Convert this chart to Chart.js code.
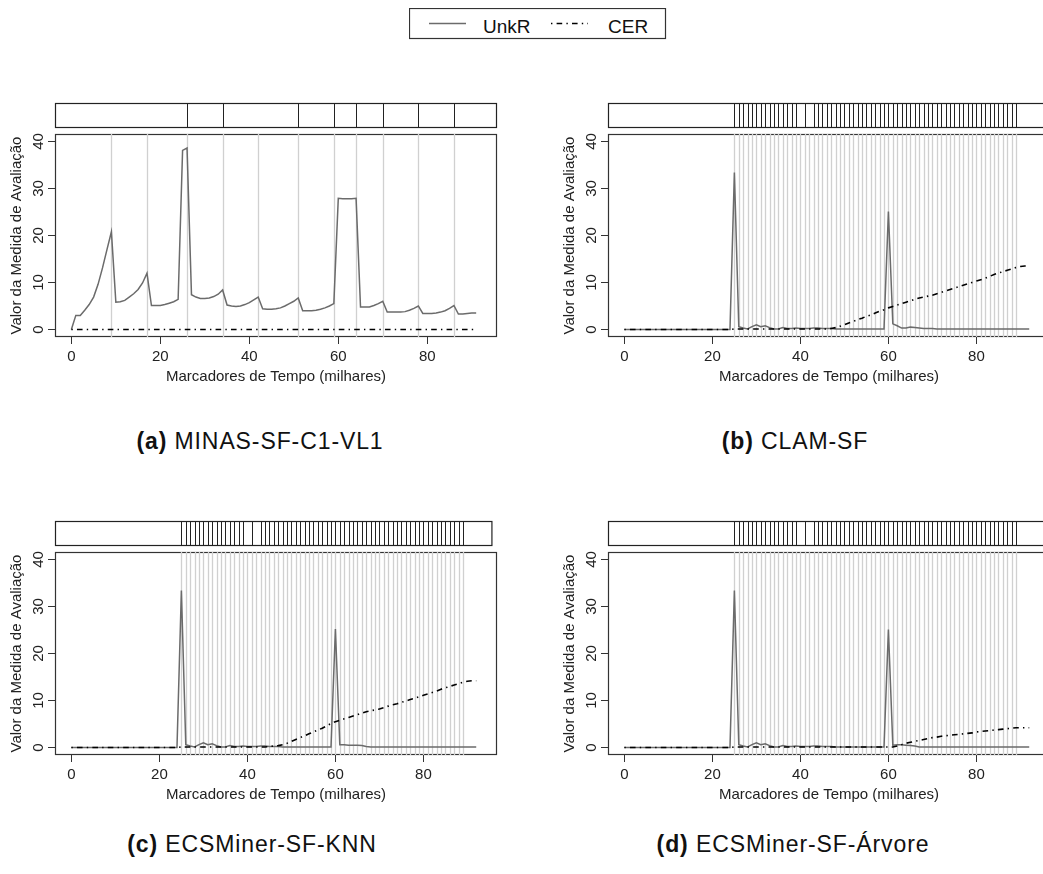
<!DOCTYPE html>
<html>
<head>
<meta charset="utf-8">
<script src="https://cdn.jsdelivr.net/npm/chart.js@4.4.0/dist/chart.umd.min.js"></script>
<style>
  html, body { margin: 0; padding: 0; background: #fff; overflow: hidden; }
  body { width: 1043px; height: 874px; position: relative; font-family: 'Liberation Sans', Arial, Helvetica, sans-serif; }
  canvas { position: absolute; }
  .cap { position: absolute; width: 520px; text-align: center; font-size: 23px; letter-spacing: 0.9px; line-height: 1; color: #111; white-space: nowrap; }
  #legend { position: absolute; left: 409px; top: 8px; }
</style>
</head>
<body>
<svg id="legend" width="258" height="32">
  <rect x="0.5" y="0.5" width="256" height="30" fill="#fff" stroke="#333" stroke-width="1.2"/>
  <line x1="20" y1="15.5" x2="57" y2="15.5" stroke="#6b6b6b" stroke-width="1.5"/>
  <text x="74" y="25" font-size="19" fill="#111" font-family="Liberation Sans, Arial, sans-serif">UnkR</text>
  <line x1="142" y1="15.5" x2="179" y2="15.5" stroke="#000" stroke-width="1.6" stroke-dasharray="1.4 4.2 5.6 4.2"/>
  <text x="199" y="25" font-size="19" fill="#111" font-family="Liberation Sans, Arial, sans-serif">CER</text>
</svg>

<canvas id="panelA" width="520" height="310" style="left:0;top:90px"></canvas>
<canvas id="panelB" width="520" height="310" style="left:553px;top:90px"></canvas>
<canvas id="panelC" width="520" height="310" style="left:0;top:508px"></canvas>
<canvas id="panelD" width="520" height="310" style="left:553px;top:508px"></canvas>

<div class="cap" style="left:0;top:430px"><b>(a)</b> MINAS-SF-C1-VL1</div>
<div class="cap" style="left:535px;top:430px"><b>(b)</b> CLAM-SF</div>
<div class="cap" style="left:-8px;top:833px"><b>(c)</b> ECSMiner-SF-KNN</div>
<div class="cap" style="left:533px;top:833px"><b>(d)</b> ECSMiner-SF-Árvore</div>

<script>
// time markers (thousands)
const timeK = [0,1,2,3,4,5,6,7,8,9,10,11,12,13,14,15,16,17,18,19,20,21,22,23,24,25,26,27,28,29,30,31,32,33,34,35,36,37,38,39,40,41,42,43,44,45,46,47,48,49,50,51,52,53,54,55,56,57,58,59,60,61,62,63,64,65,66,67,68,69,70,71,72,73,74,75,76,77,78,79,80,81,82,83,84,85,86,87,88,89,90,91,92];
const xTickValues = [0, 20, 40, 60, 80];
const yTickValues = [0, 10, 20, 30, 40];

// (a) MINAS-SF-C1-VL1
const unkrA = [0,3.0,3.0,4.1,5.3,6.9,9.6,13.1,17.0,20.8,
  5.8,5.9,6.2,6.9,7.6,8.5,9.9,12.0,5.1,5.1,
  5.1,5.3,5.6,5.9,6.4,38.1,38.6,7.4,6.9,6.6,
  6.6,6.7,7.0,7.5,8.4,5.2,5.0,4.9,5.0,5.3,
  5.7,6.3,6.9,4.4,4.3,4.3,4.4,4.6,5.0,5.5,
  6.0,6.7,4.0,4.0,4.0,4.1,4.3,4.6,5.0,5.5,
  27.9,27.8,27.8,27.8,27.9,4.8,4.8,4.8,5.1,5.5,
  6.0,3.7,3.7,3.7,3.7,3.8,4.1,4.5,5.0,3.4,
  3.4,3.4,3.5,3.7,4.0,4.5,5.1,3.3,3.3,3.4,
  3.5,3.5];
const cerA = [0,0,0,0,0,0,0,0,0,0,0,0,0,0,0,0,0,0,0,0,0,0,0,0,0,0,0,0,0,0,
  0,0,0,0,0,0,0,0,0,0,0,0,0,0,0,0,0,0,0,0,0,0,0,0,0,0,0,0,0,0,
  0,0,0,0,0,0,0,0,0,0,0,0,0,0,0,0,0,0,0,0,0,0,0,0,0,0,0,0,0,0,0,0];
const stripA = [26, 34, 51, 59, 64, 70, 78, 86];
const linesA = [9, 17, 26, 34, 42, 51, 59, 64, 70, 78, 86];

// (b) CLAM-SF
const unkrB = [0,0,0,0,0,0,0,0,0,0,0,0,0,0,0,0,0,0,0,0,0,0,0,0,0,
  33.4,0.6,0.3,0.1,0.6,1.0,0.6,0.8,0.4,0.1,
  0.1,0.4,0.2,0.2,0.3,0.2,0.2,0.2,0.3,0.3,
  0.2,0.2,0.2,0.1,0.1,0.1,0.1,0.1,0.1,0.1,
  0.1,0.1,0.1,0.1,0.1,25.1,1.2,0.8,0.3,0.3,
  0.5,0.4,0.3,0.2,0.2,0.2,
  0.1,0.1,0.1,0.1,0.1,0.1,0.1,0.1,0.1,0.1,0.1,0.1,0.1,0.1,0.1,0.1,0.1,0.1,0.1,0.1,0.1,0.1];
const cerB = [0,0,0,0,0,0,0,0,0,0,0,0,0,0,0,0,0,0,0,0,0,0,0,0,0,
  0.1,0.1,0.1,0.1,0.1,0.1,0.1,0.1,0.1,0.1,0.1,0.1,0.1,0.1,0.1,0.1,0.1,0.1,0.1,0.1,0.1,0.1,
  0.2,0.4,0.7,1.0,1.4,1.7,2.1,2.4,2.8,3.1,3.5,3.9,4.2,
  4.6,4.9,5.2,5.5,5.8,6.1,6.4,6.7,6.9,7.1,
  7.3,7.6,7.9,8.2,8.5,8.8,9.1,9.4,9.7,10.0,
  10.3,10.6,10.9,11.3,11.7,12.0,12.3,12.6,12.9,13.2,
  13.4,13.5,13.5];

// (c) ECSMiner-SF-KNN
const unkrC = [0,0,0,0,0,0,0,0,0,0,0,0,0,0,0,0,0,0,0,0,0,0,0,0,0,
  33.4,0.6,0.3,0.1,0.6,1.0,0.6,0.8,0.4,0.1,
  0.1,0.4,0.2,0.2,0.3,0.2,0.2,0.2,0.3,0.3,
  0.2,0.2,0.2,0.1,0.1,0.1,0.1,0.1,0.1,0.1,
  0.1,0.1,0.1,0.1,0.1,25.2,0.6,0.6,0.5,0.5,
  0.5,0.4,0.2,
  0.1,0.1,0.1,0.1,0.1,0.1,0.1,0.1,0.1,0.1,0.1,0.1,0.1,0.1,0.1,0.1,0.1,0.1,0.1,0.1,0.1,0.1,0.1,0.1,0.1];
const cerC = [0,0,0,0,0,0,0,0,0,0,0,0,0,0,0,0,0,0,0,0,0,0,0,0,0,
  0.1,0.1,0.1,0.1,0.1,0.1,0.1,0.1,0.1,0.1,0.1,0.1,0.1,0.1,0.1,0.1,0.1,0.1,0.1,0.1,
  0.2,0.3,0.4,0.6,0.9,1.3,1.7,2.1,2.5,2.9,
  3.3,3.7,4.1,4.6,5.1,5.5,5.8,6.1,6.4,6.7,
  7.0,7.3,7.6,7.8,8.0,8.2,8.5,8.8,9.1,9.3,
  9.6,9.9,10.2,10.5,10.8,11.1,11.4,11.7,12.0,12.4,
  12.7,13.0,13.3,13.6,13.9,14.1,14.2,14.2];

// (d) ECSMiner-SF-Arvore
const unkrD = [0,0,0,0,0,0,0,0,0,0,0,0,0,0,0,0,0,0,0,0,0,0,0,0,0,
  33.4,0.6,0.3,0.1,0.6,1.0,0.6,0.8,0.4,0.1,
  0.1,0.4,0.2,0.2,0.3,0.2,0.2,0.2,0.3,0.3,
  0.2,0.2,0.2,0.1,0.1,0.1,0.1,0.1,0.1,0.1,
  0.1,0.1,0.1,0.1,0.1,25.1,0.5,0.6,0.6,0.5,
  0.4,0.3,
  0.1,0.1,0.1,0.1,0.1,0.1,0.1,0.1,0.1,0.1,0.1,0.1,0.1,0.1,0.1,0.1,0.1,0.1,0.1,0.1,0.1,0.1,0.1,0.1,0.1,0.1];
const cerD = [0,0,0,0,0,0,0,0,0,0,0,0,0,0,0,0,0,0,0,0,0,0,0,0,0,
  0.1,0.1,0.1,0.1,0.1,0.1,0.1,0.1,0.1,0.1,0.1,0.1,0.1,0.1,0.1,0.1,0.1,0.1,0.1,0.1,
  0.1,0.1,0.1,0.1,0.1,0.1,0.1,0.1,0.1,0.1,0.1,0.1,0.1,0.1,0.1,0.1,0.1,
  0.3,0.6,0.9,1.1,1.3,1.5,1.7,1.9,2.1,2.2,
  2.4,2.5,2.6,2.7,2.8,2.9,3.0,3.1,3.3,3.4,
  3.5,3.6,3.7,3.8,3.9,4.0,4.1,4.2,4.2,4.2,4.2];

// markers shared by (b), (c), (d)
const stripBCD = [25,26,27,28,29,30,31,32,33,34,35,36,37,38,39,41,43,44,45,46,47,48,49,50,51,52,53,54,55,56,57,58,59,60,61,62,63,64,65,66,67,68,69,70,71,72,73,74,75,76,77,78,79,80,81,82,83,84,85,86,87,88,89];
const linesBCD = [25,26,27,28,29,30,31,32,33,34,35,36,37,38,39,40,41,42,43,44,45,46,47,48,49,50,51,52,53,54,55,56,57,58,59,60,61,62,63,64,65,66,67,68,69,70,71,72,73,74,75,76,77,78,79,80,81,82,83,84,85,86,87,88,89];

Chart.defaults.font.family = "'Liberation Sans', Arial, Helvetica, sans-serif";
Chart.defaults.font.size = 15;
Chart.defaults.color = '#222';

// box, grey change lines and the marker strip above the plot
const rStylePlugin = {
    id: 'rStyle',
    beforeDatasetsDraw(chart, args, opts) {
        const ctx = chart.ctx;
        const a = chart.chartArea;
        const x = chart.scales.x;
        ctx.save();
        ctx.strokeStyle = '#333';
        ctx.lineWidth = 1.2;
        ctx.strokeRect(a.left + 0.5, a.top + 0.5, a.right - a.left - 1, a.bottom - a.top - 1);

        ctx.strokeStyle = '#d0d0d0';
        ctx.lineWidth = 1.3;
        opts.lines.forEach(v => {
            const px = Math.round(x.getPixelForValue(v)) + 0.5;
            ctx.beginPath();
            ctx.moveTo(px, a.top);
            ctx.lineTo(px, a.bottom);
            ctx.stroke();
        });

        const top = a.top - 31;
        const bottom = a.top - 7;
        const right = opts.stripMax != null ? x.getPixelForValue(opts.stripMax) : a.right;
        ctx.strokeStyle = '#222';
        ctx.lineWidth = 1.2;
        ctx.strokeRect(a.left + 0.5, top + 0.5, right - a.left - 1, bottom - top);
        ctx.lineWidth = 1;
        opts.marks.forEach(v => {
            const px = Math.round(x.getPixelForValue(v)) + 0.5;
            ctx.beginPath();
            ctx.moveTo(px, top);
            ctx.lineTo(px, bottom);
            ctx.stroke();
        });
        ctx.restore();
    }
};

function toPoints(values) {
    return values.map((v, i) => ({ x: timeK[i], y: v }));
}

function makePanel(id, unkr, cer, xLim, stripMax, marks, lines) {
    const ctx = document.getElementById(id).getContext('2d');
    return new Chart(ctx, {
        type: 'line',
        data: {
            datasets: [{
                label: 'CER',
                data: toPoints(cer),
                borderColor: '#000',
                borderWidth: 1.6,
                borderDash: [1.4, 4.2, 5.6, 4.2],
                pointRadius: 0,
                order: 0
            }, {
                label: 'UnkR',
                data: toPoints(unkr),
                borderColor: '#6b6b6b',
                borderWidth: 1.5,
                pointRadius: 0,
                order: 1
            }]
        },
        options: {
            responsive: false,
            animation: false,
            events: [],
            layout: {
                padding: { top: 44, right: 23, left: 0, bottom: 0 }
            },
            plugins: {
                legend: { display: false },
                tooltip: { enabled: false },
                rStyle: { marks: marks, lines: lines, stripMax: stripMax }
            },
            scales: {
                x: {
                    type: 'linear',
                    min: xLim[0],
                    max: xLim[1],
                    afterBuildTicks: (scale) => { scale.ticks = xTickValues.map(v => ({ value: v })); },
                    afterFit: (scale) => { scale.height = 63; },
                    border: { display: false },
                    grid: { drawOnChartArea: false, drawTicks: true, tickLength: 7, tickColor: '#333' },
                    ticks: { autoSkip: false, maxRotation: 0, padding: 4, color: '#222' },
                    title: {
                        display: true,
                        text: 'Marcadores de Tempo (milhares)',
                        color: '#222',
                        font: { size: 15 },
                        padding: { top: 0, bottom: 14 }
                    }
                },
                y: {
                    min: -1.6,
                    max: 41.6,
                    afterBuildTicks: (scale) => { scale.ticks = yTickValues.map(v => ({ value: v })); },
                    afterFit: (scale) => { scale.width = 55; },
                    border: { display: false },
                    grid: { drawOnChartArea: false, drawTicks: true, tickLength: 7, tickColor: '#333' },
                    ticks: { autoSkip: false, minRotation: 90, maxRotation: 90, crossAlign: 'center', padding: 1, color: '#222' },
                    title: {
                        display: true,
                        text: 'Valor da Medida de Avaliação',
                        color: '#222',
                        font: { size: 15 },
                        padding: { top: 8, bottom: 0 }
                    }
                }
            }
        },
        plugins: [rStylePlugin]
    });
}

makePanel('panelA', unkrA, cerA, [-3.68, 95.68], null, stripA, linesA);
makePanel('panelB', unkrB, cerB, [-3.72, 96.72], 95.68, stripBCD, linesBCD);
makePanel('panelC', unkrC, cerC, [-3.72, 96.72], 95.68, stripBCD, linesBCD);
makePanel('panelD', unkrD, cerD, [-3.72, 96.72], 95.68, stripBCD, linesBCD);
</script>
</body>
</html>
